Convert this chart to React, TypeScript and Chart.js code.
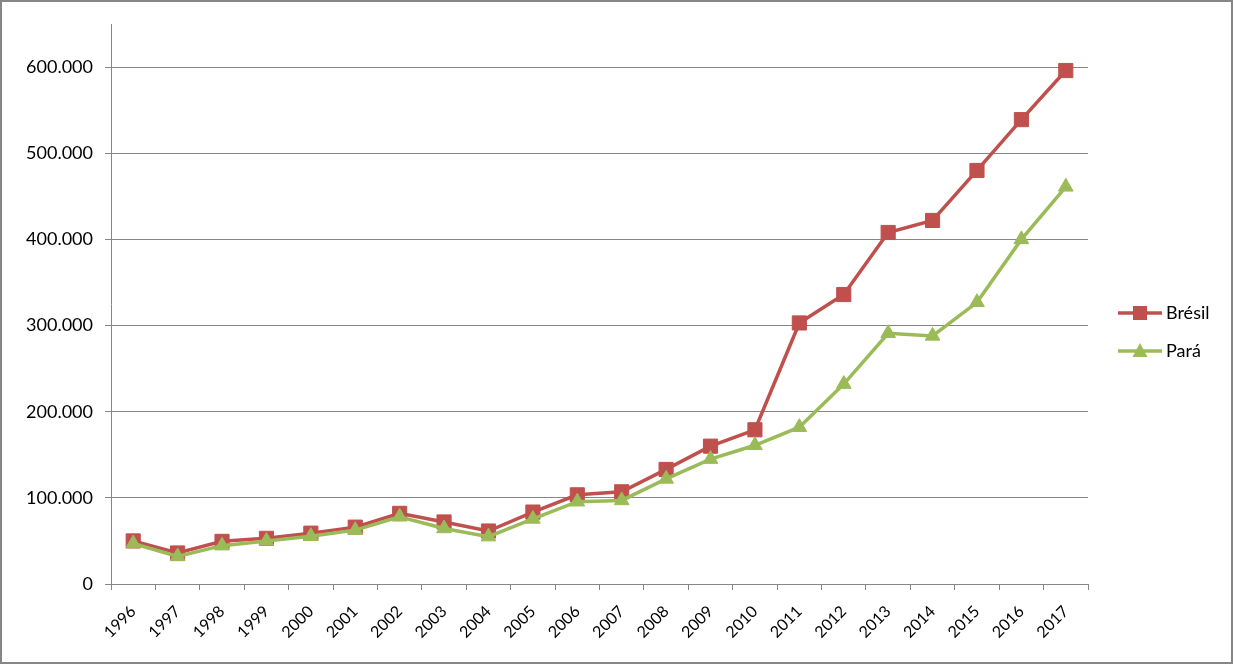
import React, { useEffect, useRef } from "react";
import { Chart, registerables } from "chart.js";

Chart.register(...registerables);

const years = ["1996","1997","1998","1999","2000","2001","2002","2003","2004","2005","2006","2007","2008","2009","2010","2011","2012","2013","2014","2015","2016","2017"];
const bresil = [50000, 36000, 49500, 53000, 59000, 66000, 82000, 72000, 61500, 83500, 103500, 107000, 133000, 160000, 179000, 303000, 336000, 408000, 422000, 480000, 539000, 596000];
const para = [47000, 32000, 44500, 50000, 55500, 62500, 78000, 64500, 55000, 75500, 95500, 97000, 122000, 145000, 161000, 182000, 232000, 291000, 288000, 327000, 400000, 461000];
const seriesNames = ["Brésil", "Pará"];
const yTickValues = [0, 100000, 200000, 300000, 400000, 500000, 600000];

const RED = "#C0504D";
const GREEN = "#9BBB59";
const GRID = "#868686";
const FONT = "Lato";

const fmt = (v: number) =>
  Math.round(v).toString().replace(/\B(?=(\d{3})+(?!\d))/g, ".");

const framePlugin = {
  id: "frameAndLegend",
  afterDraw(chart: any) {
    const ctx = chart.ctx;
    ctx.save();
    ctx.strokeStyle = GRID;
    ctx.lineWidth = 2;
    ctx.strokeRect(1, 1, chart.width - 2, chart.height - 2);

    const items = [
      { label: seriesNames[0], color: RED, style: "rect", y: 313 },
      { label: seriesNames[1], color: GREEN, style: "triangle", y: 351 },
    ];
    items.forEach((it) => {
      ctx.strokeStyle = it.color;
      ctx.lineWidth = 3.5;
      ctx.beginPath();
      ctx.moveTo(1118, it.y);
      ctx.lineTo(1162, it.y);
      ctx.stroke();
      ctx.fillStyle = it.color;
      ctx.beginPath();
      if (it.style === "rect") {
        ctx.rect(1140 - 7, it.y - 7, 14, 14);
      } else {
        ctx.moveTo(1140, it.y - 8);
        ctx.lineTo(1147.5, it.y + 6);
        ctx.lineTo(1132.5, it.y + 6);
        ctx.closePath();
      }
      ctx.fill();
      ctx.fillStyle = "#000";
      ctx.font = `18px ${FONT}`;
      ctx.textAlign = "left";
      ctx.textBaseline = "middle";
      ctx.fillText(it.label, 1166, it.y);
    });
    ctx.restore();
  },
};

export default function App() {
  const ref = useRef<HTMLCanvasElement>(null);
  useEffect(() => {
    if (!ref.current) return;
    const chart = new Chart(ref.current, {
      type: "line",
      data: {
        labels: years,
        datasets: [
          {
            label: seriesNames[0],
            data: bresil,
            borderColor: RED,
            backgroundColor: RED,
            borderWidth: 3.5,
            pointStyle: "rect",
            pointRadius: 10,
            pointBorderWidth: 1,
            pointBackgroundColor: RED,
            pointBorderColor: RED,
            tension: 0,
            order: 1,
          },
          {
            label: seriesNames[1],
            data: para,
            borderColor: GREEN,
            backgroundColor: GREEN,
            borderWidth: 3.5,
            pointStyle: "triangle",
            pointRadius: 8.5,
            pointBorderWidth: 1,
            pointBackgroundColor: GREEN,
            pointBorderColor: GREEN,
            tension: 0,
            order: 0,
          },
        ],
      },
      options: {
        animation: false,
        responsive: true,
        maintainAspectRatio: false,
        layout: { padding: { left: 0, right: 145, top: 24, bottom: 0 } },
        plugins: {
          legend: { display: false },
          tooltip: { enabled: false },
        },
        scales: {
          x: {
            offset: true,
            grid: {
              offset: true,
              drawOnChartArea: false,
              color: GRID,
              tickLength: 6,
            },
            border: { color: GRID, width: 1 },
            ticks: {
              minRotation: 45,
              maxRotation: 45,
              color: "#000",
              padding: 12,
              font: { family: FONT, size: 16 },
            },
            afterFit: (s: any) => {
              s.height = 80;
            },
          },
          y: {
            min: 0,
            max: 650000,
            grid: { color: GRID, tickLength: 6 },
            border: { color: GRID, width: 1 },
            ticks: {
              color: "#000",
              padding: 12,
              font: { family: FONT, size: 18 },
              callback: (v: any) => fmt(Number(v)),
            },
            afterBuildTicks: (s: any) => {
              s.ticks = yTickValues.map((v) => ({ value: v }));
            },
            afterFit: (s: any) => {
              s.width = 111;
            },
          },
        },
      },
      plugins: [framePlugin],
    });
    return () => chart.destroy();
  }, []);
  return (
    <div style={{ position: "absolute", left: 0, top: 0, width: 1233, height: 664, background: "#fff" }}>
      <canvas ref={ref} />
    </div>
  );
}
